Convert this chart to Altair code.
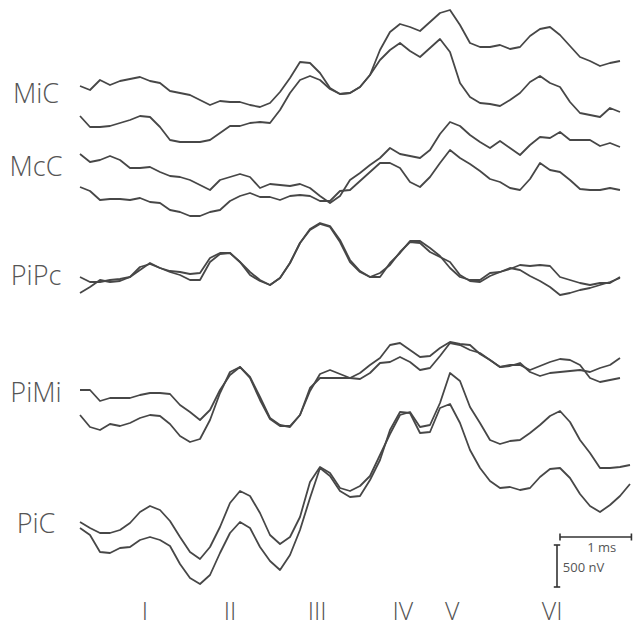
import altair as alt
import pandas as pd

# Sampling grid (ms after stimulus onset), one sample every 0.14 ms
time_ms = [round(0.14 * i, 2) for i in range(56)]

# Trace amplitudes in display units (42 units = 500 nV), increasing downward on the page
mic_a = [86, 90, 80, 85, 81, 79, 77, 81, 83, 91, 93, 95, 100, 105, 101, 102, 102, 105, 107, 103,
         92, 78, 62, 63, 73, 88, 94, 93, 87, 75, 50, 32, 24, 27, 31, 22, 13, 10, 25, 43,
         47, 47, 45, 49, 47, 36, 29, 27, 35, 46, 57, 61, 66, 63, 61]
mic_b = [116, 127, 127, 126, 123, 120, 116, 117, 127, 140, 142, 142, 142, 140, 133, 126, 126, 123, 122, 123,
         110, 93, 80, 76, 80, 89, 94, 93, 87, 75, 60, 50, 43, 51, 57, 48, 39, 52, 83, 97,
         103, 104, 106, 100, 93, 82, 76, 83, 87, 102, 113, 115, 117, 108, 112]
mcc_a = [154, 162, 160, 156, 160, 168, 168, 167, 172, 176, 177, 180, 185, 190, 180, 177, 174, 177, 188, 184,
         185, 186, 184, 188, 196, 203, 196, 180, 173, 165, 158, 148, 154, 156, 158, 150, 134, 122, 126, 135,
         142, 148, 141, 148, 155, 145, 137, 138, 132, 140, 140, 140, 146, 143, 147]
mcc_b = [187, 191, 200, 199, 199, 200, 198, 202, 203, 210, 212, 216, 216, 212, 210, 201, 196, 193, 197, 197,
         200, 196, 195, 196, 201, 201, 191, 190, 181, 172, 163, 163, 168, 182, 187, 177, 163, 150, 158, 164,
         171, 179, 182, 188, 190, 179, 163, 170, 172, 180, 189, 190, 190, 188, 190]
pipc_a = [277, 282, 282, 280, 279, 277, 270, 263, 268, 271, 272, 274, 273, 258, 253, 253, 262, 275, 281, 285,
          278, 263, 243, 229, 223, 226, 240, 260, 271, 277, 277, 263, 253, 241, 241, 248, 256, 268, 277, 280,
          280, 273, 272, 269, 265, 266, 265, 266, 277, 280, 283, 285, 283, 283, 277]
pipc_b = [293, 287, 280, 282, 281, 277, 267, 264, 268, 272, 275, 280, 280, 262, 254, 253, 262, 272, 280, 285,
          278, 263, 243, 230, 224, 227, 242, 262, 272, 277, 273, 265, 252, 242, 243, 252, 257, 262, 275, 281,
          282, 276, 272, 268, 270, 276, 281, 287, 295, 293, 290, 288, 285, 282, 278]
pimi_a = [390, 390, 401, 398, 398, 398, 395, 393, 393, 394, 405, 412, 420, 410, 390, 375, 367, 377, 397, 418,
          425, 427, 415, 391, 374, 370, 374, 378, 373, 365, 358, 345, 343, 350, 357, 356, 348, 342, 344, 345,
          354, 360, 367, 365, 365, 370, 366, 362, 359, 360, 365, 378, 382, 380, 378]
pimi_b = [415, 427, 430, 424, 426, 423, 418, 415, 416, 424, 436, 442, 439, 420, 393, 372, 367, 378, 400, 419,
          426, 426, 415, 388, 378, 378, 378, 378, 379, 373, 363, 362, 357, 362, 370, 368, 356, 343, 345, 350,
          353, 360, 367, 366, 363, 372, 376, 373, 372, 371, 370, 372, 368, 365, 358]
pic_a = [522, 528, 533, 533, 530, 523, 512, 506, 510, 521, 537, 552, 559, 547, 527, 503, 491, 496, 513, 535,
         544, 537, 517, 482, 467, 473, 488, 491, 486, 476, 455, 434, 415, 412, 427, 425, 403, 373, 381, 407,
         423, 440, 444, 441, 440, 433, 425, 416, 411, 422, 440, 453, 468, 468, 467, 465]
pic_b = [528, 535, 552, 553, 548, 547, 540, 537, 540, 546, 564, 578, 584, 575, 553, 533, 522, 528, 547, 561,
         570, 555, 530, 498, 468, 476, 491, 497, 496, 480, 460, 430, 412, 413, 433, 432, 408, 404, 423, 450,
         468, 481, 488, 487, 490, 488, 477, 469, 468, 478, 494, 506, 512, 505, 496, 484]

trace_names = ["MiC a", "MiC b", "McC a", "McC b", "PiPc a", "PiPc b",
               "PiMi a", "PiMi b", "PiC a", "PiC b"]
trace_values = [mic_a, mic_b, mcc_a, mcc_b, pipc_a, pipc_b, pimi_a, pimi_b, pic_a, pic_b]

# Row labels and their anchor positions
row_labels = ["MiC", "McC", "PiPc", "PiMi", "PiC"]
row_label_t = [-0.616, -0.616, -0.616, -0.616, -0.616]
row_label_v = [103, 176, 285, 402, 533]

# Wave numerals
wave_labels = ["I", "II", "III", "IV", "V", "VI"]
wave_t = [0.91, 2.10, 3.32, 4.52, 5.21, 6.61]
wave_v = [620, 620, 620, 620, 620, 620]

# Scale bar texts
bar_labels = ["1 ms", "500 nV"]
bar_label_t = [7.10, 6.76]
bar_label_v = [552, 572]

rows = []
for name, vals in zip(trace_names, trace_values):
    for t, v in zip(time_ms, vals):
        rows.append({"trace": name, "t": t, "v": v})
df = pd.DataFrame(rows)

xs = alt.Scale(domain=[-1.12, 7.742], nice=False, zero=False)
ys = alt.Scale(domain=[628, 0], nice=False, zero=False)
X = lambda f: alt.X(f, type="quantitative", scale=xs, axis=None)
Y = lambda f: alt.Y(f, type="quantitative", scale=ys, axis=None)

line_color = "#474747"
text_color = "#555555"

lines = alt.Chart(df).mark_line(color=line_color, strokeWidth=1.8, strokeJoin="round").encode(
    x=X("t"), y=Y("v"), detail="trace:N"
)

lab_df = pd.DataFrame({"label": row_labels, "t": row_label_t, "v": row_label_v})
labels = alt.Chart(lab_df).mark_text(
    align="center", baseline="alphabetic", fontSize=27, font="Open Sans", fontWeight=300, color=text_color
).encode(x=X("t"), y=Y("v"), text="label:N")

wave_df = pd.DataFrame({"label": wave_labels, "t": wave_t, "v": wave_v})
waves = alt.Chart(wave_df).mark_text(
    align="center", baseline="alphabetic", fontSize=25, font="Open Sans", fontWeight=300, color=text_color
).encode(x=X("t"), y=Y("v"), text="label:N")

# Scale bars: 1 ms horizontal, 500 nV (42 units) vertical
hbar_t0, hbar_len, hbar_v = 6.72, 1.0, 537
vbar_t, vbar_v0, vbar_len = 6.678, 545, 42

hbar = alt.Chart(pd.DataFrame({"t": [hbar_t0], "t2": [hbar_t0 + hbar_len], "v": [hbar_v]})).mark_rule(
    color="#333333", strokeWidth=1.6
).encode(x=X("t"), x2="t2:Q", y=Y("v"))
hcaps = alt.Chart(pd.DataFrame({"t": [hbar_t0, hbar_t0 + hbar_len],
                                "v": [hbar_v - 3.5] * 2, "v2": [hbar_v + 3.5] * 2})).mark_rule(
    color="#333333", strokeWidth=1.6
).encode(x=X("t"), y=Y("v"), y2="v2:Q")
vbar = alt.Chart(pd.DataFrame({"t": [vbar_t], "v": [vbar_v0], "v2": [vbar_v0 + vbar_len]})).mark_rule(
    color="#333333", strokeWidth=1.6
).encode(x=X("t"), y=Y("v"), y2="v2:Q")
vcaps = alt.Chart(pd.DataFrame({"t": [vbar_t - 0.045] * 2, "t2": [vbar_t + 0.045] * 2,
                                "v": [vbar_v0, vbar_v0 + vbar_len]})).mark_rule(
    color="#333333", strokeWidth=1.6
).encode(x=X("t"), x2="t2:Q", y=Y("v"))

bar_text = alt.Chart(pd.DataFrame({"label": bar_labels, "t": bar_label_t, "v": bar_label_v})).mark_text(
    baseline="alphabetic", fontSize=13, font="Open Sans", color=text_color, align="left"
).encode(x=X("t"), y=Y("v"), text="label:N")

chart = alt.layer(lines, labels, waves, hbar, hcaps, vbar, vcaps, bar_text).properties(
    width=633, height=628, autosize=alt.AutoSizeParams(type="none"), padding=0, background="white"
).configure_view(stroke=None)

chart.save("out.html", embed_options={"renderer": "svg", "actions": False})
